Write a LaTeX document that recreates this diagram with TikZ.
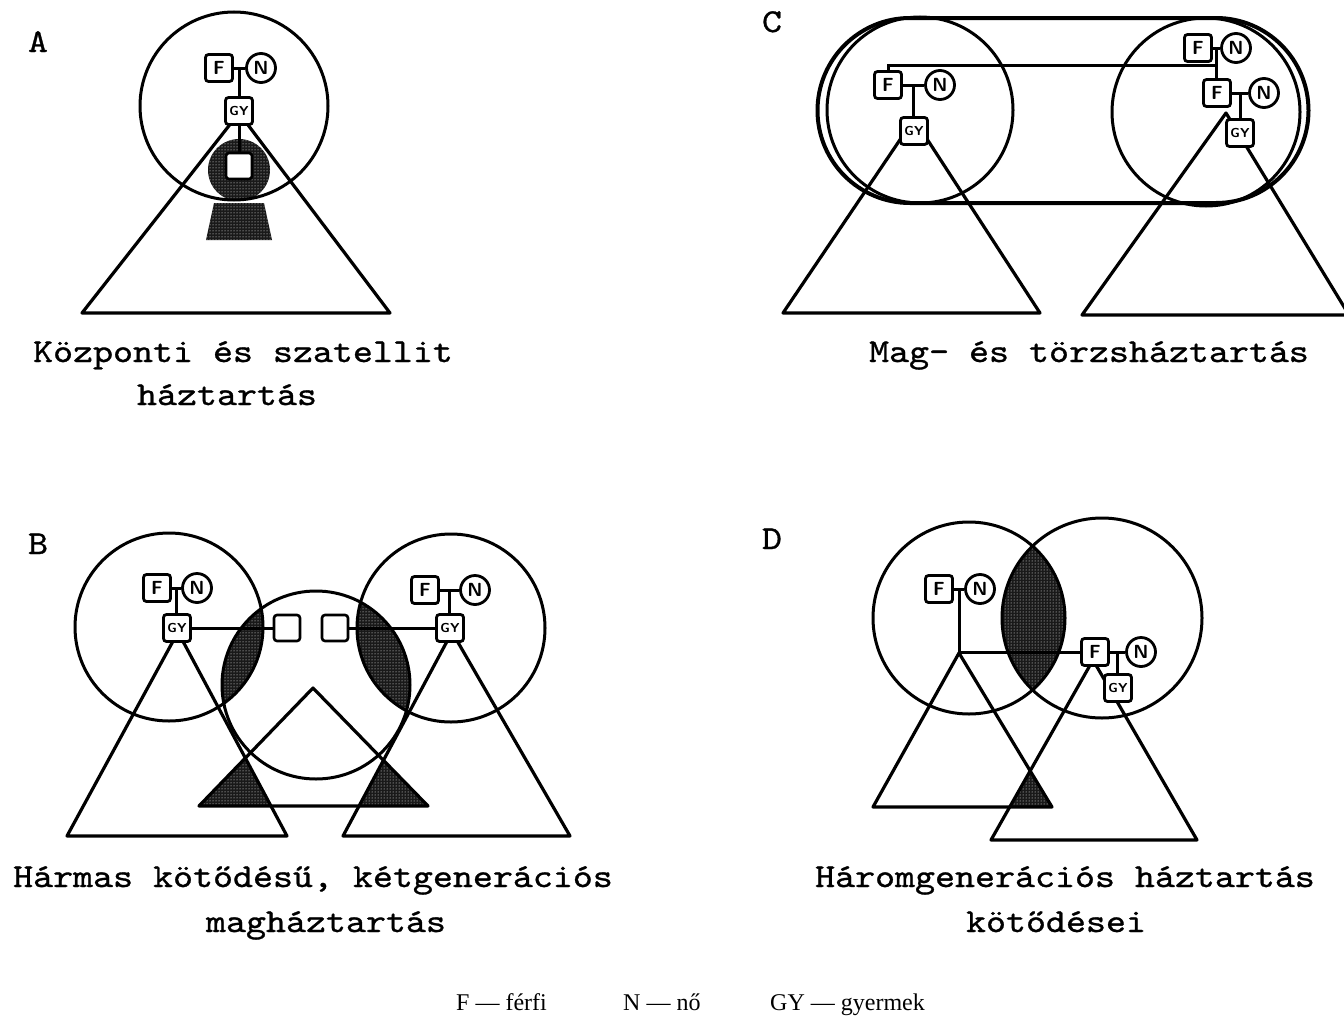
\documentclass[tikz,border=0pt]{standalone}
\usepackage{fontspec}
\setmainfont{Liberation Serif}
\setmonofont[FakeStretch=1.14,FakeBold=0.9]{lmmono10-regular.otf}
\usetikzlibrary{patterns,calc}

\begin{document}
\begin{tikzpicture}[x=1pt,y=-1pt,
  ring/.style={line width=3pt},
  tri/.style={line width=3.2pt,line join=round},
  link/.style={line width=3pt},
  mottled/.style={fill=black!90,postaction={pattern=dots,pattern color=white}},
  man/.style={draw,fill=white,rounded corners=3pt,line width=2.8pt,minimum size=27pt,inner sep=0pt,
    font=\sffamily\bfseries\fontsize{19}{19}\selectfont},
  woman/.style={draw,fill=white,circle,line width=2.8pt,minimum size=29pt,inner sep=0pt,
    font=\sffamily\bfseries\fontsize{19}{19}\selectfont},
  kid/.style={man,font=\sffamily\bfseries\fontsize{13}{13}\selectfont},
  house/.style={draw,fill=white,rounded corners=3pt,line width=2.6pt,minimum size=26pt,inner sep=0pt},
  caption/.style={font=\ttfamily\fontsize{33.4}{40}\selectfont,anchor=base,inner sep=0pt},
  legend/.style={font=\fontsize{24}{24}\selectfont,anchor=base west,inner sep=0pt}]
  \useasboundingbox (0,0) rectangle (1344,1017);

  % A
  \node[caption] (labA) at (38,52) {A};
  \fill[mottled] (239,170) circle[radius=31pt];
  \fill[mottled] (214,203) -- (264,203) -- (272,240) -- (206,240) -- cycle;
  \draw[ring] (234,106) circle[radius=94pt];
  \draw[tri] (239,113) -- (82,313) -- (390,313) -- cycle;
  \node[man] (fA) at (219,68) {F};
  \node[woman] (nA) at (261,68) {N};
  \node[kid] (gyA) at (239,111) {GY};
  \node[house] (hA) at (239,166) {};
  \draw[link] (fA) -- (nA);
  \coordinate (jA) at ($(fA.east)!.5!(nA.west)$);
  \draw[link] (jA) -- (jA |- gyA.north);
  \draw[link] (gyA) -- (hA);
  \node[caption] (capA1) at (243,362) {Központi és szatellit};
  \node[caption] (capA2) at (227,405) {háztartás};

  % C
  \node[caption] (labC) at (772,32) {C};
  \draw[line width=4pt] (910,18) -- (1216,18) arc[start angle=90,end angle=-90,radius=92.5pt]
    -- (910,203) arc[start angle=270,end angle=90,radius=92.5pt] -- cycle;
  \draw[ring] (920,110) circle[radius=93pt];
  \draw[ring] (1206,112) circle[radius=94pt];
  \draw[tri] (914,119) -- (783,313) -- (1040,313) -- cycle;
  \draw[tri] (1226,113) -- (1082,315) -- (1349,315) -- cycle;
  \node[man] (fC) at (888,85) {F};
  \node[woman] (nC) at (940,85) {N};
  \node[kid] (gyC) at (914,131) {GY};
  \node[man] (fT) at (1198,48) {F};
  \node[woman] (nT) at (1236,48) {N};
  \node[man] (fS) at (1217,93) {F};
  \node[woman] (nS) at (1264,93) {N};
  \node[kid] (gyS) at (1240,133) {GY};
  \draw[link] (fC) -- (nC);
  \coordinate (jC) at ($(fC.east)!.5!(nC.west)$);
  \draw[link] (jC) -- (jC |- gyC.north);
  \draw[link] (fT) -- (nT);
  \coordinate (jT) at ($(fT.east)!.5!(nT.west)$);
  \draw[link] (jT) -- (jT |- fS.north);
  \draw[link] (fC.north) |- ($(jT)+(0,17)$);
  \draw[link] (fS) -- (nS);
  \coordinate (jS) at ($(fS.east)!.5!(nS.west)$);
  \draw[link] (jS) -- (jS |- gyS.north);
  \node[caption] (capC) at (1089,362) {Mag- és törzsháztartás};

  % B
  \node[caption] (labB) at (38,554) {B};
  \begin{scope}
    \clip (169,627) circle[radius=94pt];
    \fill[mottled] (316,685) circle[radius=94pt];
  \end{scope}
  \begin{scope}
    \clip (451,628) circle[radius=94pt];
    \fill[mottled] (316,685) circle[radius=94pt];
  \end{scope}
  \begin{scope}
    \clip (178,632) -- (67,836) -- (287,836) -- cycle;
    \fill[mottled] (313,688) -- (199,806) -- (428,806) -- cycle;
  \end{scope}
  \begin{scope}
    \clip (452,632) -- (343,836) -- (570,836) -- cycle;
    \fill[mottled] (313,688) -- (199,806) -- (428,806) -- cycle;
  \end{scope}
  \draw[ring] (169,627) circle[radius=94pt];
  \draw[ring] (316,685) circle[radius=94pt];
  \draw[ring] (451,628) circle[radius=94pt];
  \draw[tri] (178,632) -- (67,836) -- (287,836) -- cycle;
  \draw[tri] (452,632) -- (343,836) -- (570,836) -- cycle;
  \draw[tri] (313,688) -- (199,806) -- (428,806) -- cycle;
  \node[man] (fB) at (157,588) {F};
  \node[woman] (nB) at (197,588) {N};
  \node[kid] (gyB) at (177,628) {GY};
  \node[man] (fE) at (425,590) {F};
  \node[woman] (nE) at (475,590) {N};
  \node[kid] (gyE) at (450,628) {GY};
  \node[house] (hB) at (287,628) {};
  \node[house] (hE) at (335,628) {};
  \draw[link] (fB) -- (nB);
  \coordinate (jB) at ($(fB.east)!.5!(nB.west)$);
  \draw[link] (jB) -- (jB |- gyB.north);
  \draw[link] (fE) -- (nE);
  \coordinate (jE) at ($(fE.east)!.5!(nE.west)$);
  \draw[link] (jE) -- (jE |- gyE.north);
  \draw[link] (gyB) -- (hB);
  \draw[link] (gyE) -- (hE);
  \node[caption] (capB1) at (313,887) {Hármas kötődésű, kétgenerációs};
  \node[caption] (capB2) at (326,932) {magháztartás};

  % D
  \node[caption] (labD) at (772,549) {D};
  \begin{scope}
    \clip (969,618) circle[radius=96pt];
    \fill[mottled] (1102,618) circle[radius=100pt];
  \end{scope}
  \begin{scope}
    \clip (959,653) -- (873,807) -- (1052,807) -- cycle;
    \fill[mottled] (1093,660) -- (991,840) -- (1197,840) -- cycle;
  \end{scope}
  \draw[ring] (969,618) circle[radius=96pt];
  \draw[ring] (1102,618) circle[radius=100pt];
  \draw[tri] (959,653) -- (873,807) -- (1052,807) -- cycle;
  \draw[tri] (1093,660) -- (991,840) -- (1197,840) -- cycle;
  \node[man] (fD) at (939,589) {F};
  \node[woman] (nD) at (980,589) {N};
  \node[man] (fG) at (1095,652) {F};
  \node[woman] (nG) at (1141,652) {N};
  \node[kid] (gyG) at (1118,688) {GY};
  \draw[link] (fD) -- (nD);
  \coordinate (jD) at ($(fD.east)!.5!(nD.west)$);
  \draw[link] (jD) |- (fG.west);
  \draw[link] (fG) -- (nG);
  \coordinate (jG) at ($(fG.east)!.5!(nG.west)$);
  \draw[link] (jG) -- (jG |- gyG.north);
  \node[caption] (capD1) at (1065,887) {Háromgenerációs háztartás};
  \node[caption] (capD2) at (1056,932) {kötődései};

  % legend
  \node[legend] (lgF) at (456,1010) {F — férfi};
  \node[legend] (lgN) at (623,1010) {N — nő};
  \node[legend] (lgGY) at (770,1010) {GY — gyermek};
\end{tikzpicture}
\end{document}
